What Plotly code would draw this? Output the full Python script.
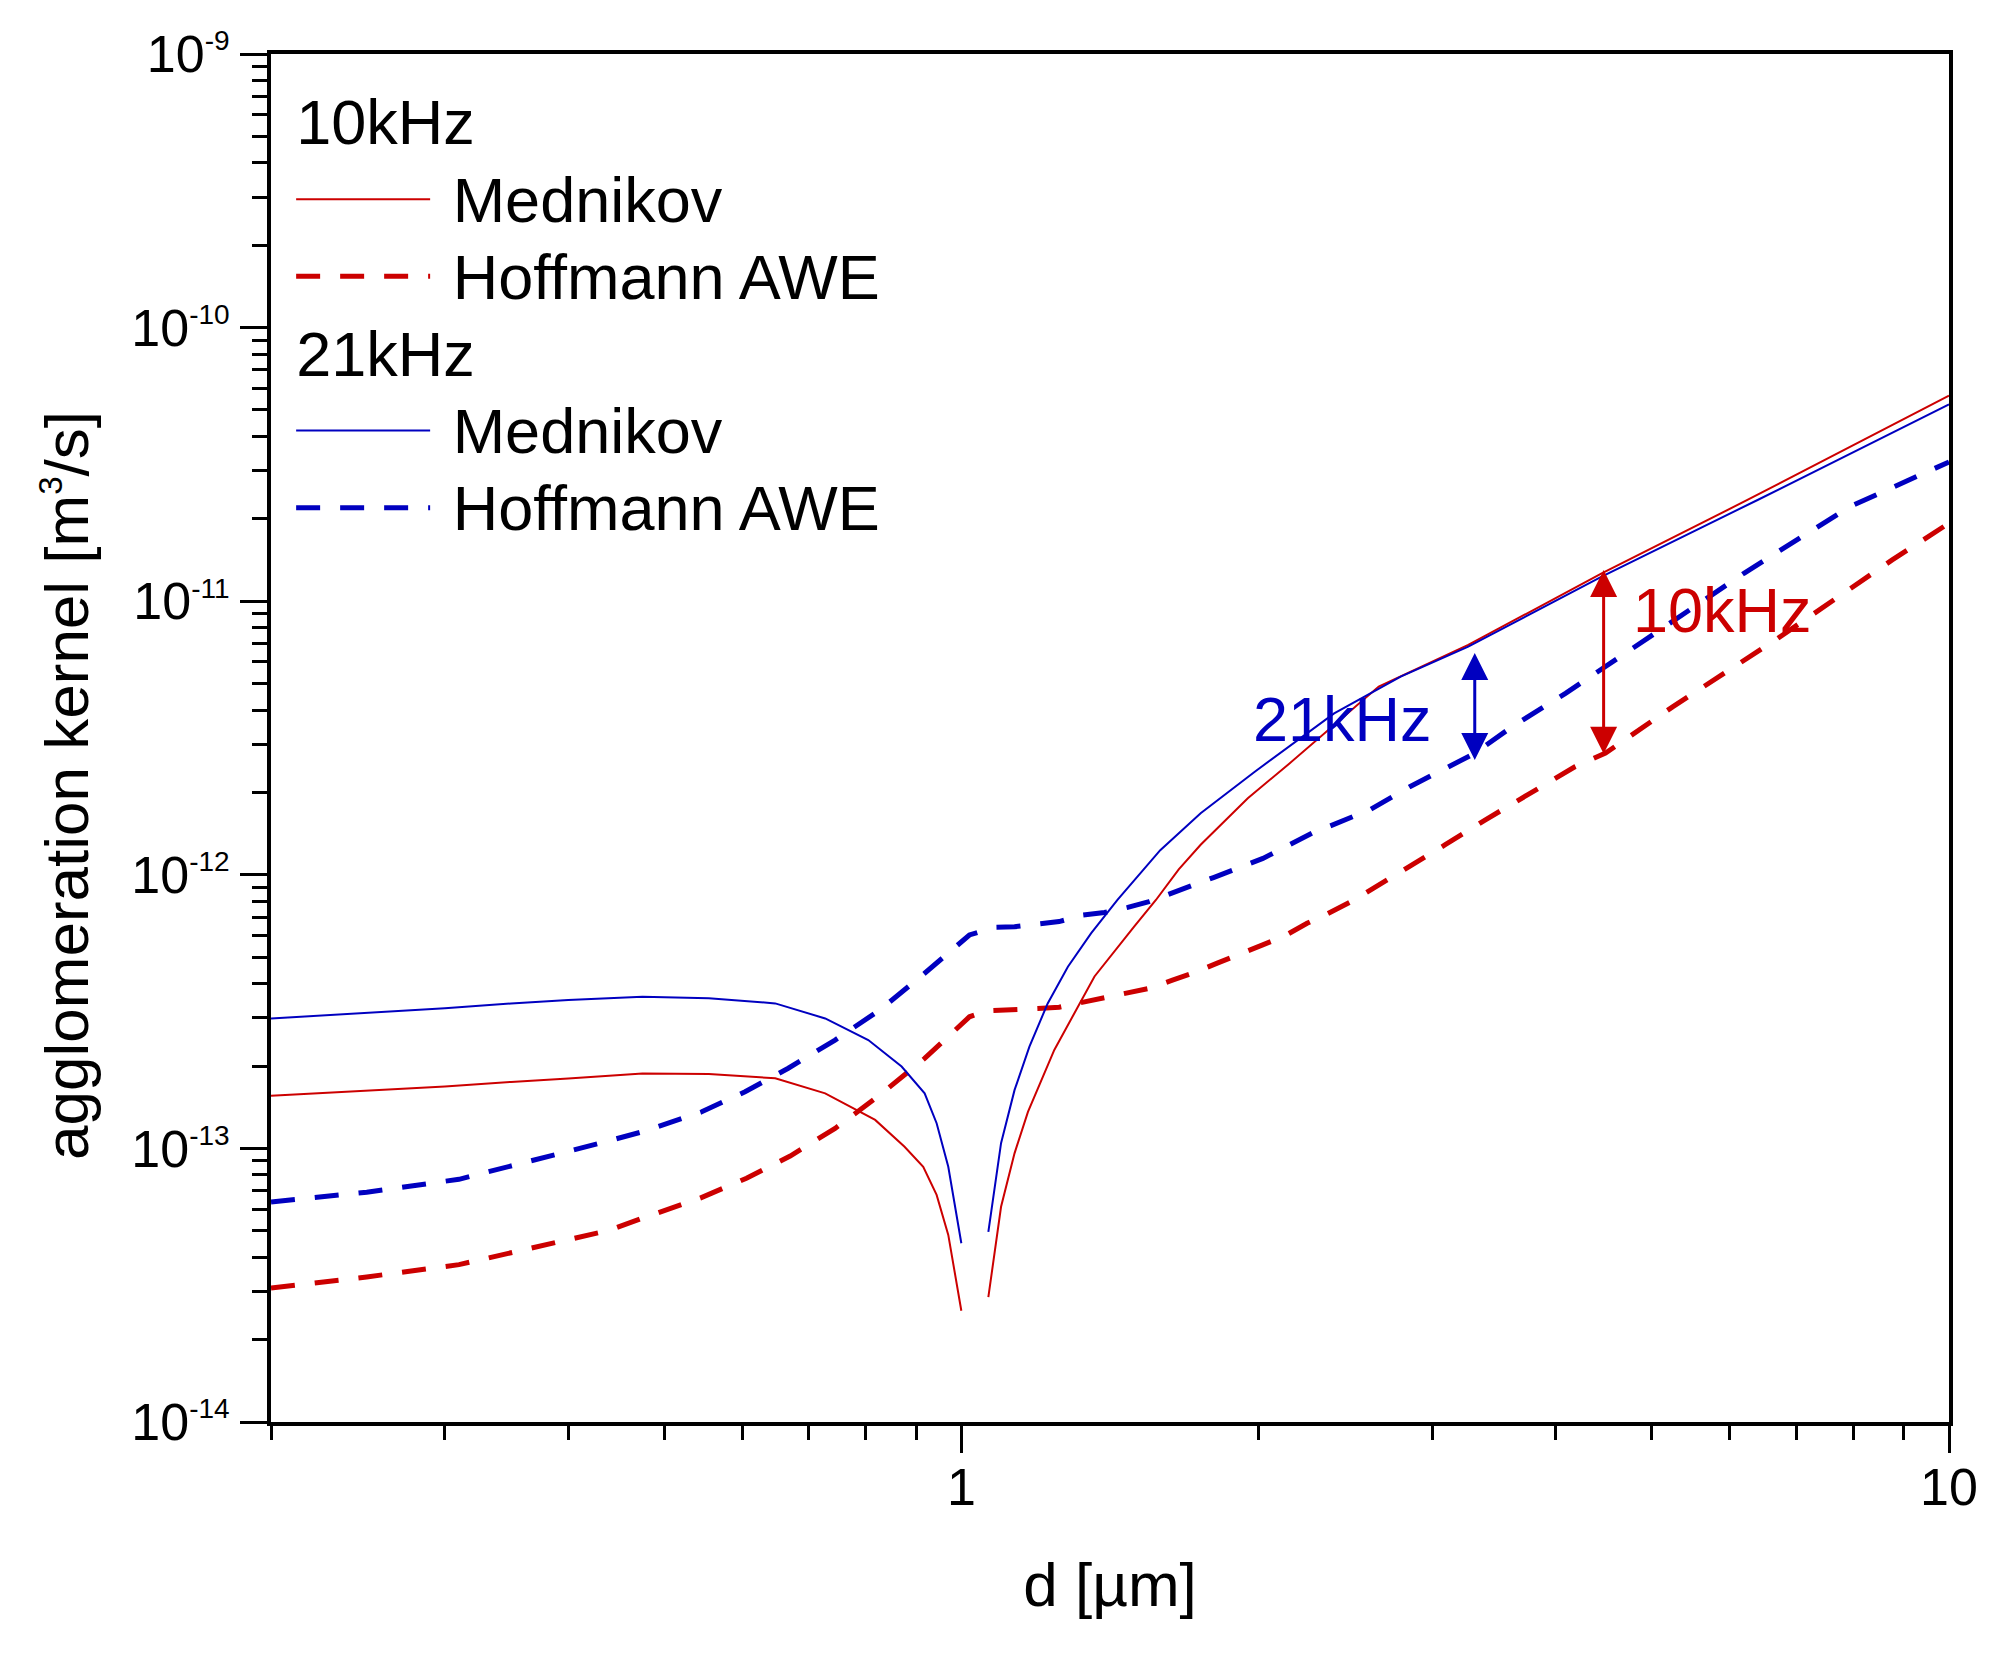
import math
import plotly.graph_objects as go

# ---------------- data ----------------
# 10 kHz, Mednikov (two branches separated by the dip at d ~ 1 µm)
med10_d = [0.2, 0.25, 0.3, 0.35, 0.4, 0.4755, 0.555, 0.648, 0.728, 0.818, 0.876, 0.915, 0.944, 0.97, 0.988, 1.0,
           None,
           1.065, 1.097, 1.132, 1.168, 1.242, 1.364, 1.496, 1.574, 1.66, 1.747, 1.95, 2.149, 2.646, 3.26, 4.45,
           6.25, 10.0]
med10_k = [1.556e-13, 1.622e-13, 1.683e-13, 1.750e-13, 1.799e-13, 1.879e-13, 1.871e-13, 1.803e-13, 1.589e-13,
           1.271e-13, 1.014e-13, 8.57e-14, 6.76e-14, 4.83e-14, 3.31e-14, 2.55e-14,
           None,
           2.86e-14, 6.12e-14, 9.59e-14, 1.36e-13, 2.29e-13, 4.25e-13, 6.46e-13, 8.09e-13, 1.047e-12, 1.288e-12,
           1.905e-12, 2.553e-12, 4.875e-12, 6.918e-12, 1.265e-11, 2.344e-11, 5.636e-11]

# 10 kHz, Hoffmann AWE
hof10_d = [0.2, 0.25, 0.31, 0.381, 0.439, 0.4755, 0.544, 0.606, 0.671, 0.745, 0.827, 0.918, 0.973, 1.019, 1.06,
           1.132, 1.195, 1.256, 1.327, 1.396, 1.474, 1.549, 1.636, 1.72, 1.816, 1.911, 2.016, 2.119, 2.239, 2.346,
           2.499, 3.09, 3.39, 4.18, 4.49, 5.25, 6.67, 8.76, 10.0]
hof10_k = [3.09e-14, 3.39e-14, 3.76e-14, 4.44e-14, 5.01e-14, 5.56e-14, 6.58e-14, 7.78e-14, 9.38e-14, 1.183e-13,
           1.567e-13, 2.133e-13, 2.594e-13, 3.027e-13, 3.184e-13, 3.206e-13, 3.243e-13, 3.281e-13, 3.420e-13,
           3.524e-13, 3.690e-13, 3.846e-13, 4.121e-13, 4.385e-13, 4.753e-13, 5.093e-13, 5.534e-13, 5.943e-13,
           6.653e-13, 7.194e-13, 8.091e-13, 1.288e-12, 1.585e-12, 2.483e-12, 2.786e-12, 4.111e-12, 7.211e-12,
           1.416e-11, 1.928e-11]

# 21 kHz, Mednikov
med21_d = [0.2, 0.25, 0.3, 0.35, 0.4, 0.4755, 0.555, 0.648, 0.728, 0.805, 0.87, 0.918, 0.944, 0.97, 1.0,
           None,
           1.065, 1.097, 1.132, 1.172, 1.223, 1.282, 1.353, 1.439, 1.59, 1.747, 1.982, 2.385, 2.785, 3.26, 4.45,
           6.4, 10.0]
med21_k = [2.985e-13, 3.126e-13, 3.251e-13, 3.388e-13, 3.483e-13, 3.581e-13, 3.540e-13, 3.388e-13, 2.985e-13,
           2.489e-13, 1.991e-13, 1.589e-13, 1.236e-13, 8.57e-14, 4.50e-14,
           None,
           4.95e-14, 1.045e-13, 1.633e-13, 2.355e-13, 3.388e-13, 4.613e-13, 6.109e-13, 8.091e-13, 1.23e-12,
           1.679e-12, 2.382e-12, 3.890e-12, 5.297e-12, 6.823e-12, 1.230e-11, 2.344e-11, 5.236e-11]

# 21 kHz, Hoffmann AWE
hof21_d = [0.2, 0.25, 0.31, 0.381, 0.439, 0.4755, 0.546, 0.604, 0.668, 0.745, 0.827, 0.918, 0.973, 1.019, 1.08,
           1.132, 1.195, 1.256, 1.327, 1.396, 1.474, 1.549, 1.8, 2.02, 2.265, 2.59, 2.845, 3.31, 3.61, 4.09, 5.04,
           6.2, 7.93, 10.0]
hof21_k = [6.37e-14, 6.92e-14, 7.71e-14, 9.29e-14, 1.064e-13, 1.151e-13, 1.361e-13, 1.611e-13, 1.963e-13,
           2.489e-13, 3.206e-13, 4.365e-13, 5.236e-13, 6.026e-13, 6.427e-13, 6.457e-13, 6.607e-13, 6.745e-13,
           7.129e-13, 7.278e-13, 7.603e-13, 7.980e-13, 9.77e-13, 1.148e-12, 1.419e-12, 1.726e-12, 2.099e-12,
           2.780e-12, 3.475e-12, 4.603e-12, 7.638e-12, 1.265e-11, 2.213e-11, 3.228e-11]

# difference arrows (d, kernel top, kernel bottom)
arrow21 = [3.31, 6.55e-12, 2.63e-12]
arrow10 = [4.47, 1.318e-11, 2.77e-12]

# legend / series labels
group_titles = ["10kHz", "21kHz"]
series_names = ["Mednikov", "Hoffmann AWE"]

# tick labels
x_tickvals = [1, 10]
x_ticktext = ["1", "10"]
y_exponents = [-14, -13, -12, -11, -10, -9]

# ---------------- styling ----------------
RED = "#cc0000"
BLUE = "#0000c0"
FONT = "Arial, 'Liberation Sans', sans-serif"
LEG_FS = 57          # controls legend row pitch
LEG_TXT = 63         # visible legend text size
DASH = "24px,20px"


def leg(txt, pad=True):
    sp = "\u00a0" if pad else ""
    return "<span style='font-size:%dpx'>%s%s</span>" % (LEG_TXT, sp, txt)


fig = go.Figure()

fig.add_trace(go.Scatter(x=med10_d, y=med10_k, mode="lines", name=leg(series_names[0]),
                         line=dict(color=RED, width=2), connectgaps=False,
                         legendgroup="g10", legendgrouptitle=dict(text=leg(group_titles[0], False))))
fig.add_trace(go.Scatter(x=hof10_d, y=hof10_k, mode="lines", name=leg(series_names[1]),
                         line=dict(color=RED, width=5, dash=DASH),
                         legendgroup="g10"))
fig.add_trace(go.Scatter(x=med21_d, y=med21_k, mode="lines", name=leg(series_names[0]),
                         line=dict(color=BLUE, width=2), connectgaps=False,
                         legendgroup="g21", legendgrouptitle=dict(text=leg(group_titles[1], False))))
fig.add_trace(go.Scatter(x=hof21_d, y=hof21_k, mode="lines", name=leg(series_names[1]),
                         line=dict(color=BLUE, width=5, dash=DASH),
                         legendgroup="g21"))

y_tickvals = [10.0 ** e for e in y_exponents]
y_ticktext = ["10<sup><span style='font-size:28px'>%d</span></sup>" % e for e in y_exponents]

annotations = []
for arr, col in ((arrow21, BLUE), (arrow10, RED)):
    annotations.append(dict(
        x=math.log10(arr[0]), y=math.log10(arr[2]), xref="x", yref="y",
        ax=math.log10(arr[0]), ay=math.log10(arr[1]), axref="x", ayref="y",
        text="", showarrow=True, arrowhead=2, startarrowhead=2, arrowside="end+start",
        arrowsize=1.8, startarrowsize=1.8, arrowwidth=3, arrowcolor=col))

annotations.append(dict(x=0.2935, y=-11.431, xref="x", yref="y", text="21kHz", showarrow=False,
                        xanchor="left", yanchor="middle", font=dict(family=FONT, size=63, color=BLUE)))
annotations.append(dict(x=0.678, y=-11.032, xref="x", yref="y", text="10kHz", showarrow=False,
                        xanchor="left", yanchor="middle", font=dict(family=FONT, size=63, color=RED)))

# y-axis title
annotations.append(dict(x=0, y=0.465, xref="paper", yref="paper", xshift=-204,
                        text="agglomeration kernel [m<sup><span style='font-size:33px'>3</span></sup>/s]",
                        textangle=-90, showarrow=False, xanchor="center", yanchor="middle",
                        font=dict(family=FONT, size=62, color="black")))

fig.update_layout(
    width=2000, height=1661,
    margin=dict(l=271, r=51, t=54, b=239, autoexpand=False),
    paper_bgcolor="white", plot_bgcolor="white",
    font=dict(family=FONT, color="black"),
    showlegend=True,
    legend=dict(x=0.012, y=0.982, xanchor="left", yanchor="top", bgcolor="rgba(0,0,0,0)",
                font=dict(family=FONT, size=LEG_FS, color="black"),
                grouptitlefont=dict(family=FONT, size=LEG_FS, color="black"),
                tracegroupgap=0, itemwidth=134, traceorder="grouped"),
    annotations=annotations,
)

fig.update_xaxes(
    type="log", range=[math.log10(0.2), 1.0],
    showline=True, linecolor="black", linewidth=4, mirror=True,
    showgrid=False, zeroline=False,
    tickmode="array", tickvals=x_tickvals, ticktext=x_ticktext,
    ticks="outside", ticklen=27, tickwidth=3, tickcolor="black", ticklabelstandoff=-10,
    tickfont=dict(family=FONT, size=52, color="black"),
    minor=dict(ticks="outside", ticklen=14, tickwidth=3, tickcolor="black", dtick="D1", showgrid=False),
    title=dict(text="d [µm]", font=dict(family=FONT, size=62, color="black"), standoff=48),
)
fig.update_yaxes(
    type="log", range=[-14, -9],
    showline=True, linecolor="black", linewidth=4, mirror=True,
    showgrid=False, zeroline=False,
    tickmode="array", tickvals=y_tickvals, ticktext=y_ticktext,
    ticks="outside", ticklen=27, tickwidth=3, tickcolor="black",
    tickfont=dict(family=FONT, size=52, color="black"),
    minor=dict(ticks="outside", ticklen=15, tickwidth=3, tickcolor="black", dtick="D1", showgrid=False),
)

fig.write_html("out.html")
